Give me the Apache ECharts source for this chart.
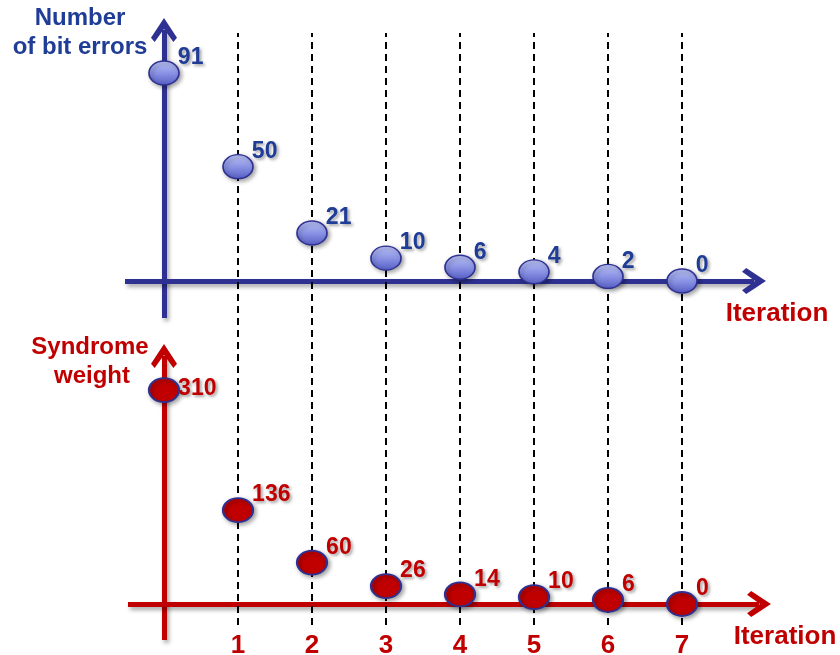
<!DOCTYPE html>
<html>
<head>
<meta charset="utf-8">
<script src="https://cdn.jsdelivr.net/npm/echarts@6/dist/echarts.min.js"></script>
<style>
html,body{margin:0;padding:0;background:#fff;}
#chart{width:840px;height:655px;}
</style>
</head>
<body>
<div id="chart"></div>
<script>
// ---- data ----
const iterations = [0, 1, 2, 3, 4, 5, 6, 7];
const bitErrors = [91, 50, 21, 10, 6, 4, 2, 0];
const syndromeWeight = [310, 136, 60, 26, 14, 10, 6, 0];
const tickIterations = [1, 2, 3, 4, 5, 6, 7];

const BLUE = '#2E3192';
const BLUE_TXT = '#1F3C96';
const RED = '#C00000';
const FONT = '"Liberation Sans", Arial, sans-serif';
const chevron = 'path://M12.5,0 L25,19 L21.5,23 L12.5,10.5 L3.5,23 L0,19 Z';

const axisShadow = {shadowColor: 'rgba(0,0,0,0.35)', shadowBlur: 4, shadowOffsetX: 2, shadowOffsetY: 3};

function arrowAxis(color, min, max, gridIndex) {
  return {
    type: 'value', gridIndex: gridIndex, min: min, max: max,
    axisLine: {show: true, onZero: true, symbol: ['none', chevron], symbolSize: [26, 24],
      lineStyle: Object.assign({color: color, width: 5, cap: 'butt'}, axisShadow)},
    axisTick: {show: false}, axisLabel: {show: false}, splitLine: {show: false}
  };
}

const labelCommon = {
  show: true, position: 'right', distance: 0, offset: [-2, -15],
  fontFamily: FONT, fontWeight: 'bold', fontSize: 23,
  textShadowColor: 'rgba(0,0,0,0.35)', textShadowBlur: 3, textShadowOffsetX: 2, textShadowOffsetY: 2,
  formatter: p => String(p.value[1])
};

const chart = echarts.init(document.getElementById('chart'), null, {renderer: 'canvas'});
chart.setOption({
  animation: false,
  backgroundColor: '#fff',
  grid: [
    {left: 125, width: 629, top: 30, height: 288, outerBoundsMode: 'none', containLabel: false},
    {left: 128, width: 631, top: 356, height: 284, outerBoundsMode: 'none', containLabel: false},
    {left: 164, width: 518, top: 33, height: 592, outerBoundsMode: 'none', containLabel: false}
  ],
  xAxis: [
    arrowAxis(BLUE, -0.527, 7.973, 0),
    arrowAxis(RED, -0.4865, 8.0405, 1),
    {type: 'value', gridIndex: 2, min: 0, max: 7, interval: 1,
      axisLine: {show: false}, axisTick: {show: false}, splitLine: {show: false},
      axisLabel: {show: true, showMinLabel: false, margin: 8, color: RED,
        fontFamily: FONT, fontWeight: 'bold', fontSize: 26,
        formatter: v => (tickIterations.indexOf(v) >= 0 ? String(v) : '')}}
  ],
  yAxis: [
    arrowAxis(BLUE, -16.19, 109.8, 0),
    arrowAxis(RED, -52.15, 359.3, 1),
    {type: 'value', gridIndex: 2, min: 0, max: 1, show: false}
  ],
  graphic: [
    {type: 'text', x: 80, y: 18, style: {text: 'Number', fill: BLUE_TXT, font: 'bold 24px ' + FONT, align: 'center', verticalAlign: 'middle', textAlign: 'center', textVerticalAlign: 'middle'}},
    {type: 'text', x: 80, y: 47, style: {text: 'of bit errors', fill: BLUE_TXT, font: 'bold 24px ' + FONT, align: 'center', verticalAlign: 'middle', textAlign: 'center', textVerticalAlign: 'middle'}},
    {type: 'text', x: 90, y: 347, style: {text: 'Syndrome', fill: RED, font: 'bold 24px ' + FONT, align: 'center', verticalAlign: 'middle', textAlign: 'center', textVerticalAlign: 'middle'}},
    {type: 'text', x: 92, y: 376, style: {text: 'weight', fill: RED, font: 'bold 24px ' + FONT, align: 'center', verticalAlign: 'middle', textAlign: 'center', textVerticalAlign: 'middle'}},
    {type: 'text', x: 777, y: 314, style: {text: 'Iteration', fill: RED, font: 'bold 26px ' + FONT, align: 'center', verticalAlign: 'middle', textAlign: 'center', textVerticalAlign: 'middle'}},
    {type: 'text', x: 785, y: 637, style: {text: 'Iteration', fill: RED, font: 'bold 26px ' + FONT, align: 'center', verticalAlign: 'middle', textAlign: 'center', textVerticalAlign: 'middle'}}
  ],
  series: [
    {
      type: 'scatter', xAxisIndex: 2, yAxisIndex: 2, data: [], z: 1, silent: true,
      markLine: {
        silent: true, symbol: ['none', 'none'], label: {show: false},
        lineStyle: {color: '#000', type: [7, 5], width: 2},
        data: tickIterations.map(v => ({xAxis: v}))
      }
    },
    {
      type: 'scatter', xAxisIndex: 0, yAxisIndex: 0, z: 5,
      symbol: 'circle', symbolSize: [30, 24],
      data: iterations.map((it, i) => [it, bitErrors[i]]),
      itemStyle: {
        color: {type: 'linear', x: 0, y: 0, x2: 0, y2: 1,
          colorStops: [{offset: 0, color: '#BFC6F6'}, {offset: 0.5, color: '#8A93E4'}, {offset: 1, color: '#545CC4'}]},
        borderColor: BLUE, borderWidth: 1.5, opacity: 1,
        shadowColor: 'rgba(0,0,0,0.35)', shadowBlur: 4, shadowOffsetX: 2, shadowOffsetY: 2
      },
      label: Object.assign({color: BLUE_TXT}, labelCommon)
    },
    {
      type: 'scatter', xAxisIndex: 1, yAxisIndex: 1, z: 5,
      symbol: 'circle', symbolSize: [30, 24],
      data: iterations.map((it, i) => (i === 0
        ? {value: [it, syndromeWeight[i]], label: {offset: [-2, -1]}}
        : [it, syndromeWeight[i]])),
      itemStyle: {
        color: RED, borderColor: BLUE, borderWidth: 2, opacity: 1,
        shadowColor: 'rgba(0,0,0,0.35)', shadowBlur: 4, shadowOffsetX: 2, shadowOffsetY: 2
      },
      label: Object.assign({color: RED}, labelCommon)
    }
  ]
});
</script>
</body>
</html>
